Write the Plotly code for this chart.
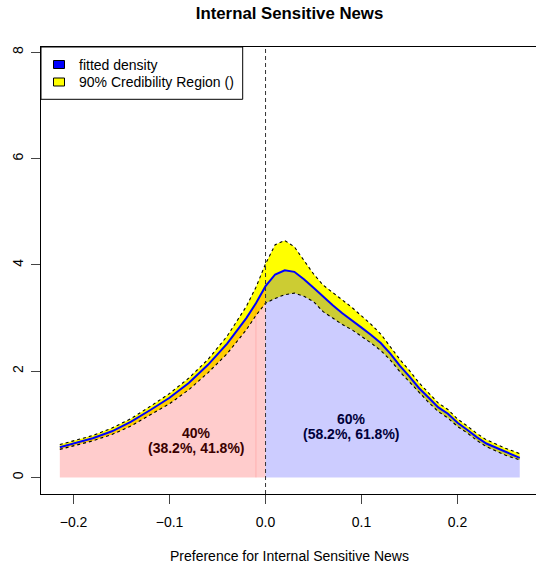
import plotly.graph_objects as go

# ---------------- data ----------------
x_grid = [-0.2143, -0.18, -0.16, -0.14, -0.12, -0.10, -0.08, -0.06, -0.04, -0.02, -0.01,
          0.0, 0.01, 0.02, 0.03, 0.04, 0.05, 0.06, 0.07, 0.08, 0.09, 0.10, 0.11, 0.12,
          0.13, 0.14, 0.15, 0.16, 0.17, 0.18, 0.19, 0.20, 0.21, 0.22, 0.23, 0.24, 0.25, 0.2648]
fitted = [0.57, 0.74, 0.87, 1.05, 1.27, 1.50, 1.78, 2.12, 2.52, 3.00, 3.28,
          3.60, 3.82, 3.90, 3.87, 3.73, 3.57, 3.40, 3.24, 3.09, 2.96, 2.82, 2.68, 2.53,
          2.33, 2.10, 1.90, 1.68, 1.50, 1.32, 1.20, 1.03, 0.90, 0.76, 0.64, 0.56, 0.48, 0.37]
upper = [0.62, 0.79, 0.93, 1.11, 1.34, 1.58, 1.87, 2.22, 2.66, 3.22, 3.58,
         4.02, 4.38, 4.46, 4.34, 4.08, 3.83, 3.62, 3.48, 3.34, 3.20, 3.04, 2.88, 2.70,
         2.46, 2.22, 2.01, 1.78, 1.59, 1.40, 1.28, 1.10, 0.97, 0.83, 0.71, 0.63, 0.55, 0.45]
lower = [0.53, 0.69, 0.81, 0.97, 1.18, 1.39, 1.65, 1.97, 2.33, 2.78, 3.05,
         3.28, 3.37, 3.44, 3.47, 3.41, 3.31, 3.12, 3.00, 2.88, 2.78, 2.66, 2.53, 2.39,
         2.21, 1.99, 1.80, 1.59, 1.41, 1.24, 1.12, 0.96, 0.84, 0.70, 0.58, 0.50, 0.42, 0.33]

x_tickvals = [-0.2, -0.1, 0.0, 0.1, 0.2]
x_ticktext = ["\u22120.2", "\u22120.1", "0.0", "0.1", "0.2"]
y_tickvals = [0, 2, 4, 6, 8]
y_ticktext = ["0", "2", "4", "6", "8"]

left_share_lines = ["40%", "(38.2%, 41.8%)"]
right_share_lines = ["60%", "(58.2%, 61.8%)"]
left_label_x, left_label_y = -0.0717, [0.840, 0.547]
right_label_x, right_label_y = 0.0897, [1.106, 0.813]

title_text = "Internal Sensitive News"
xlab_text = "Preference for Internal Sensitive News"
legend_labels = ["fitted density", "90% Credibility Region ()"]
legend_colors = ["#0000FF", "#FFFF00"]

# ---------------- layout geometry (pixels) ----------------
W, H = 536, 566
ML, MR, MT = 41, 0, 47
MB = H - 494
PW, PH = W - ML - MR, H - MT - MB
FONT = "Liberation Sans, Arial, Helvetica, sans-serif"


def px_x(p):  # pixel -> paper x
    return (p - ML) / PW


def px_y(p):  # pixel -> paper y
    return (H - MB - p) / PH


fig = go.Figure()

# credibility band (yellow)
fig.add_trace(go.Scatter(
    x=x_grid + x_grid[::-1], y=upper + lower[::-1],
    fill="toself", fillcolor="#FFFF00", line=dict(width=0),
    mode="lines", hoverinfo="skip", showlegend=False))

# shares under the curve
neg_x = [xv for xv in x_grid if xv <= 0]
neg_y = [fv for xv, fv in zip(x_grid, fitted) if xv <= 0]
pos_x = [xv for xv in x_grid if xv >= 0]
pos_y = [fv for xv, fv in zip(x_grid, fitted) if xv >= 0]

fig.add_trace(go.Scatter(
    x=neg_x, y=neg_y, fill="tozeroy", fillcolor="rgba(255,0,0,0.2)",
    line=dict(width=0), mode="lines", hoverinfo="skip", showlegend=False))
fig.add_trace(go.Scatter(
    x=pos_x, y=pos_y, fill="tozeroy", fillcolor="rgba(0,0,255,0.2)",
    line=dict(width=0), mode="lines", hoverinfo="skip", showlegend=False))

# faint polygon edge at last negative grid point
last_neg = [i for i, xv in enumerate(x_grid) if xv < 0][-1]
fig.add_trace(go.Scatter(
    x=[x_grid[last_neg], x_grid[last_neg]], y=[0, fitted[last_neg]],
    mode="lines", line=dict(color="rgba(255,0,0,0.14)", width=1),
    hoverinfo="skip", showlegend=False))

# bounds
for b in (upper, lower):
    fig.add_trace(go.Scatter(
        x=x_grid, y=b, mode="lines",
        line=dict(color="black", width=1.1, dash="3px,3px"),
        hoverinfo="skip", showlegend=False))

# fitted density
fig.add_trace(go.Scatter(
    x=x_grid, y=fitted, mode="lines",
    line=dict(color="#0000FF", width=2),
    hoverinfo="skip", showlegend=False))

shapes = []
# vertical dashed line at zero
shapes.append(dict(type="line", xref="x", yref="paper", x0=0, x1=0, y0=0, y1=1,
                   line=dict(color="#333333", width=1, dash="4px,3px")))
# legend box
shapes.append(dict(type="rect", xref="paper", yref="paper",
                   x0=px_x(41), x1=px_x(242.7), y0=px_y(99.3), y1=px_y(47),
                   line=dict(color="black", width=1), fillcolor="white"))
leg_rows = [64.5, 82.0]
for yc, col in zip(leg_rows, legend_colors):
    shapes.append(dict(type="rect", xref="paper", yref="paper",
                       x0=px_x(53.5), x1=px_x(64.5), y0=px_y(yc + 4), y1=px_y(yc - 4),
                       line=dict(color="black", width=1), fillcolor=col))

annotations = []
for yc, lab in zip(leg_rows, legend_labels):
    annotations.append(dict(xref="paper", yref="paper", x=px_x(77), y=px_y(yc),
                            text=lab, showarrow=False, xanchor="left", yanchor="middle",
                            font=dict(family=FONT, size=14, color="black")))

for txt, yv in zip(left_share_lines, left_label_y):
    annotations.append(dict(x=left_label_x, y=yv, text="<b>" + txt + "</b>",
                            showarrow=False, xanchor="center", yanchor="middle",
                            font=dict(family=FONT, size=14, color="#3a0000")))
for txt, yv in zip(right_share_lines, right_label_y):
    annotations.append(dict(x=right_label_x, y=yv, text="<b>" + txt + "</b>",
                            showarrow=False, xanchor="center", yanchor="middle",
                            font=dict(family=FONT, size=14, color="#00003a")))

# x axis title
annotations.append(dict(xref="paper", yref="paper", x=px_x(289.5), y=px_y(556),
                        text=xlab_text, showarrow=False, xanchor="center", yanchor="middle",
                        font=dict(family=FONT, size=14, color="black")))

fig.update_layout(
    width=W, height=H,
    margin=dict(l=ML, r=MR, t=MT, b=MB, pad=0),
    paper_bgcolor="white", plot_bgcolor="white",
    template="none",
    title=dict(text="<b>" + title_text + "</b>", x=289.5 / W, xref="container",
               xanchor="center", y=1 - 13.5 / H, yref="container", yanchor="middle",
               font=dict(family=FONT, size=16.8, color="black")),
    shapes=shapes, annotations=annotations,
    showlegend=False,
)

fig.update_xaxes(
    range=[-0.2339, -0.2339 + PW / 960.0],
    showgrid=False, zeroline=False,
    showline=True, linecolor="black", linewidth=1, mirror=True,
    ticks="outside", ticklen=9, tickwidth=1, tickcolor="#444444",
    tickvals=x_tickvals, ticktext=x_ticktext,
    tickfont=dict(family=FONT, size=14, color="black"),
    ticklabelstandoff=6,
)
fig.update_yaxes(
    range=[-0.31, -0.31 + PH / 53.15],
    showgrid=False, zeroline=False,
    showline=True, linecolor="black", linewidth=1, mirror=False,
    ticks="outside", ticklen=9, tickwidth=1, tickcolor="#444444",
    tickvals=y_tickvals, ticktext=y_ticktext, tickangle=-90,
    tickfont=dict(family=FONT, size=14, color="black"),
    ticklabelstandoff=2,
)

fig.write_html("out.html",
               config={"displayModeBar": False, "staticPlot": True},
               post_script="document.body.style.margin='0';document.body.style.padding='0';")
